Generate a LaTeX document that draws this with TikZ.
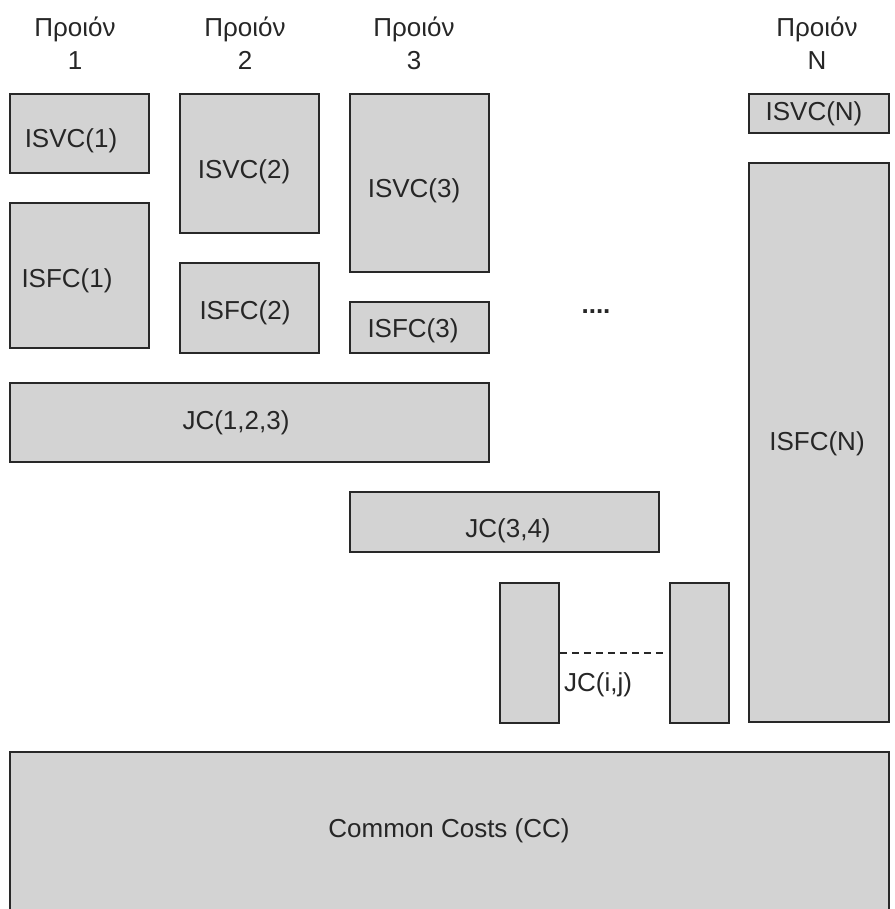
\documentclass[tikz,border=0pt]{standalone}
\usepackage{fontspec}
\setmainfont{Liberation Sans}
\definecolor{boxfill}{RGB}{211,211,211}
\definecolor{boxline}{RGB}{40,40,40}
\begin{document}
\begin{tikzpicture}[x=1pt,y=-1pt,
  bx/.style={draw=boxline,fill=boxfill,line width=1.6pt,inner sep=0pt,rectangle},
  lbl/.style={inner sep=0pt,font=\fontsize{26}{32}\selectfont,text=black!85},
  hdr/.style={inner sep=0pt,align=center,font=\fontsize{26}{33}\selectfont,text=black!85}]
\useasboundingbox (0,0) rectangle (894,909);
% column headers
\node[hdr] (h1) at (75,43) {Προιόν\\1};
\node[hdr] (h2) at (245,43) {Προιόν\\2};
\node[hdr] (h3) at (414,43) {Προιόν\\3};
\node[hdr] (hN) at (817,43) {Προιόν\\N};
% boxes
\node[bx,minimum width=139pt,minimum height=79pt] (v1) at (79.5,133.5) {};
\node[bx,minimum width=139pt,minimum height=139pt] (v2) at (249.5,163.5) {};
\node[bx,minimum width=139pt,minimum height=178pt] (v3) at (419.5,183) {};
\node[bx,minimum width=140pt,minimum height=39pt] (vN) at (819,113.5) {};
\node[bx,minimum width=139pt,minimum height=145pt] (f1) at (79.5,275.5) {};
\node[bx,minimum width=139pt,minimum height=90pt] (f2) at (249.5,308) {};
\node[bx,minimum width=139pt,minimum height=51pt] (f3) at (419.5,327.5) {};
\node[bx,minimum width=140pt,minimum height=559pt] (fN) at (819,442.5) {};
\node[bx,minimum width=479pt,minimum height=79pt] (j123) at (249.5,422.5) {};
\node[bx,minimum width=309pt,minimum height=60pt] (j34) at (504.5,522) {};
\node[bx,minimum width=59pt,minimum height=140pt] (jl) at (529.5,653) {};
\node[bx,minimum width=59pt,minimum height=140pt] (jr) at (699.5,653) {};
\node[bx,minimum width=879pt,minimum height=162pt] (cc) at (449.5,833) {};
% dashed link
\coordinate (dend) at (665,653);
\draw[dashed,dash pattern=on 7pt off 5pt,line width=1.2pt,draw=boxline] (jl.east) -- (dend);
% labels
\node[lbl] (tv1) at (71,141) {ISVC(1)};
\node[lbl] (tv2) at (244,172) {ISVC(2)};
\node[lbl] (tv3) at (414,191) {ISVC(3)};
\node[lbl] (tvN) at (814,114) {ISVC(N)};
\node[lbl] (tf1) at (67,281) {ISFC(1)};
\node[lbl] (tf2) at (245,313) {ISFC(2)};
\node[lbl] (tf3) at (413,331) {ISFC(3)};
\node[lbl] (tfN) at (817,444) {ISFC(N)};
\node[lbl] (tj123) at (236,423) {JC(1,2,3)};
\node[lbl] (tj34) at (508,531) {JC(3,4)};
\node[lbl] (tjij) at (598,685) {JC(i,j)};
\node[lbl] (tcc) at (449,831) {Common Costs (CC)};
\node[lbl,font=\fontsize{26}{32}\selectfont\bfseries] (dots) at (596,312) {....};
\end{tikzpicture}
\end{document}
